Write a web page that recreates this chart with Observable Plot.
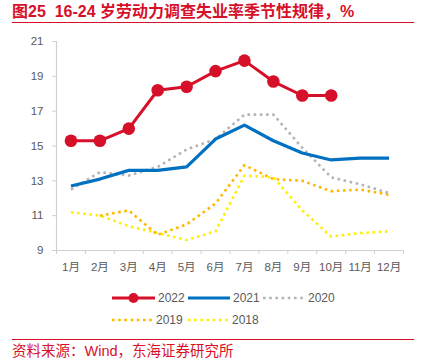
<!DOCTYPE html>
<html><head><meta charset="utf-8">
<script src="https://cdn.jsdelivr.net/npm/d3@7"></script>
<script src="https://cdn.jsdelivr.net/npm/@observablehq/plot@0.6"></script>
<style>
body{margin:0;background:#fff;font-family:"Liberation Sans",Arial,"Noto Sans CJK SC",sans-serif;}
#wrap{position:relative;width:427px;height:364px;overflow:hidden;}
#title{position:absolute;left:12px;top:3px;font-size:16px;font-weight:bold;color:#D7102A;white-space:nowrap;font-family:"Liberation Sans",Arial,"Noto Sans CJK SC",sans-serif;line-height:18px;}
.rule{position:absolute;left:12px;width:402px;height:1.5px;background:#D7102A;}
#footer{position:absolute;left:12px;top:342px;font-size:14.5px;color:#D7102A;white-space:nowrap;line-height:18px;font-family:"Liberation Sans",Arial,"Noto Sans CJK SC",sans-serif;}
#chart{position:absolute;left:0;top:0;}
#legend{position:absolute;left:0;top:285px;}
</style></head>
<body><div id="wrap">
<div id="chart"></div>
<div id="title">图25&nbsp;&nbsp;16-24 岁劳动力调查失业率季节性规律，%</div>
<div class="rule" style="top:21.5px"></div>
<div id="legend"></div>
<div class="rule" style="top:338.5px"></div>
<div id="footer">资料来源：Wind，东海证券研究所</div>
</div>
<script>
const months = ["1月","2月","3月","4月","5月","6月","7月","8月","9月","10月","11月","12月"];
const yTicks = [9,11,13,15,17,19,21];
const v2022 = [15.3,15.3,16.0,18.2,18.4,19.3,19.9,18.7,17.9,17.9];
const v2021 = [12.7,13.1,13.6,13.6,13.8,15.4,16.2,15.3,14.6,14.2,14.3,14.3];
const v2020 = [12.5,13.5,13.3,13.8,14.8,15.4,16.8,16.8,14.9,13.2,12.8,12.3];
const v2019 = [null,11.0,11.3,9.9,10.5,11.7,13.9,13.1,13.0,12.4,12.5,12.2];
const v2018 = [11.2,11.0,10.4,10.0,9.6,10.1,13.3,13.2,11.3,9.8,10.0,10.1];

const series = [
  {name:"2018", vals:v2018, color:"#FFF000", width:2.6, dash:"2.6 3.6"},
  {name:"2019", vals:v2019, color:"#FFB800", width:2.6, dash:"2.6 3.6"},
  {name:"2020", vals:v2020, color:"#B4B4B4", width:2.6, dash:"2.6 3.6"},
  {name:"2021", vals:v2021, color:"#0070C0", width:3.2, dash:null},
  {name:"2022", vals:v2022, color:"#D7102A", width:3, dash:null, dot:true}
];
const toRows = s => s.vals.map((v,i)=>({m:i+1, v})).filter(d=>d.v!=null);

const marks = [];
for (const s of series) {
  marks.push(Plot.line(toRows(s), {x:"m", y:"v", stroke:s.color, strokeWidth:s.width,
    strokeDasharray:s.dash || undefined, strokeLinecap:"butt", strokeLinejoin:"round"}));
  if (s.dot) marks.push(Plot.dot(toRows(s), {x:"m", y:"v", r:6.3, fill:s.color, stroke:"none"}));
}
const bounds = d3.range(0.5, 13, 1);
const axisColor = "#D0D0D0", textColor = "#595959";
const chart = Plot.plot({
  width:427, height:290,
  marginLeft:56, marginRight:24, marginTop:41, marginBottom:40,
  style:{fontFamily:'"Liberation Sans",Arial,"Noto Sans CJK SC",sans-serif', fontSize:"11.5px", color:textColor, background:"transparent", overflow:"visible"},
  x:{type:"linear", domain:[0.5,12.5], label:null},
  y:{type:"linear", domain:[9,21], label:null},
  marks:[
    Plot.axisX({ticks:bounds, tickSize:4, tickFormat:()=>"", stroke:axisColor, strokeOpacity:1, label:null}),
    Plot.axisX({ticks:d3.range(1,13), tickSize:0, tickPadding:12, tickFormat:d=>months[d-1], fill:textColor, label:null}),
    Plot.ruleY([9], {stroke:axisColor, strokeWidth:1.2}),
    Plot.axisY({ticks:yTicks, tickSize:4, tickPadding:9, stroke:axisColor, strokeOpacity:1, fill:textColor, label:null}),
    Plot.ruleX([0.5], {stroke:axisColor, strokeWidth:1.2}),
    ...marks
  ]
});
document.getElementById("chart").appendChild(chart);

// legend
const lg = d3.select("#legend").append("svg").attr("width",427).attr("height",50)
  .style("font-family",'"Liberation Sans",Arial,sans-serif').style("font-size","12px");
const items = [
  {s:series[4], x:112, y:13, x2:155},
  {s:series[3], x:188, y:13, x2:230},
  {s:series[2], x:263, y:13, x2:305},
  {s:series[1], x:112, y:35, x2:153},
  {s:series[0], x:188, y:35, x2:229}
];
for (const it of items) {
  const l = lg.append("line").attr("x1",it.x).attr("x2",it.x2).attr("y1",it.y).attr("y2",it.y)
    .attr("stroke",it.s.color).attr("stroke-width",it.s.width);
  if (it.s.dash) l.attr("stroke-dasharray",it.s.dash);
  if (it.s.dot) lg.append("circle").attr("cx",(it.x+it.x2)/2).attr("cy",it.y).attr("r",5).attr("fill",it.s.color);
  lg.append("text").attr("x",it.x2+3).attr("y",it.y).attr("dy","0.36em").attr("fill",textColor).text(it.s.name);
}
</script>
</body></html>
